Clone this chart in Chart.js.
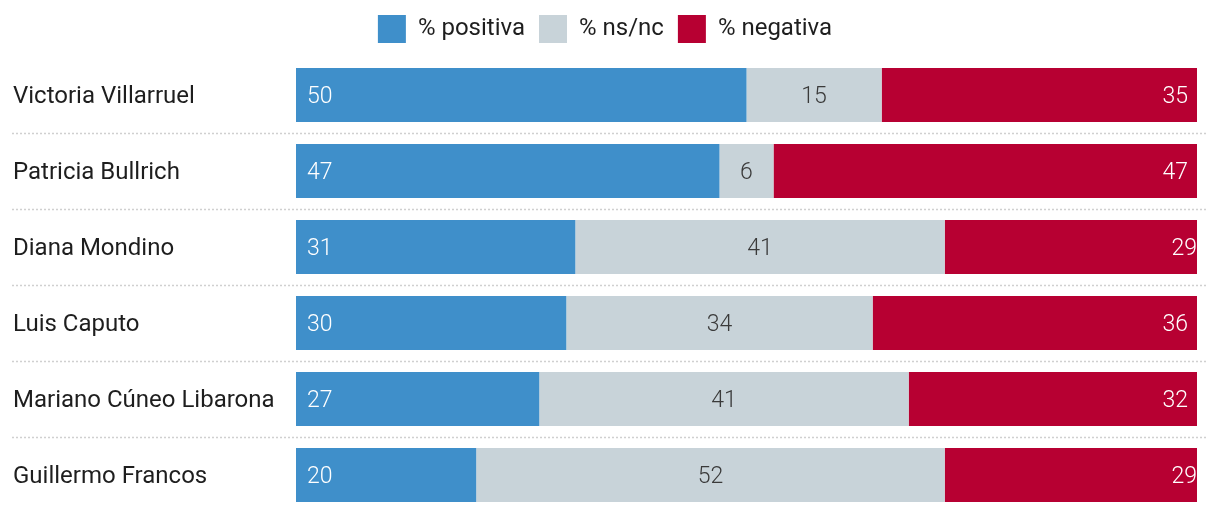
<!DOCTYPE html>
<html>
<head>
<meta charset="utf-8">
<script src="https://cdn.jsdelivr.net/npm/chart.js@4/dist/chart.umd.min.js"></script>
<style>
  body { margin: 0; background: #fff; }
  #wrap { width: 1220px; height: 514px; position: relative; }
</style>
</head>
<body>
<div id="wrap"><canvas id="chart"></canvas></div>
<script>
const categories = ['Victoria Villarruel', 'Patricia Bullrich', 'Diana Mondino', 'Luis Caputo', 'Mariano Cúneo Libarona', 'Guillermo Francos'];
const positiva = [50, 47, 31, 30, 27, 20];
const nsnc = [15, 6, 41, 34, 41, 52];
const negativa = [35, 47, 29, 36, 32, 29];
const seriesNames = ['% positiva', '% ns/nc', '% negativa'];

const FONT = 'Roboto, "Noto Sans", sans-serif';

// fixed legend height so the rows start where they should
const legendHeight = {
    id: 'legendHeight',
    afterInit(chart) {
        const lg = chart.legend;
        if (!lg) return;
        const fit = lg.fit;
        lg.fit = function () {
            fit.call(this);
            this.height = 56;
        };
    }
};

// dotted lines between the rows
const separators = {
    id: 'separators',
    beforeDatasetsDraw(chart) {
        const ctx = chart.ctx;
        const y = chart.scales.y;
        const area = chart.chartArea;
        ctx.save();
        ctx.strokeStyle = '#d0d0d0';
        ctx.lineWidth = 1.5;
        ctx.setLineDash([2, 2]);
        for (let i = 0; i < categories.length - 1; i++) {
            const py = Math.round((y.getPixelForValue(i) + y.getPixelForValue(i + 1)) / 2) + 0.5;
            ctx.beginPath();
            ctx.moveTo(12, py);
            ctx.lineTo(area.right + 11, py);
            ctx.stroke();
        }
        ctx.restore();
    }
};

// value labels inside the bars
const barLabels = {
    id: 'barLabels',
    afterDatasetsDraw(chart) {
        const ctx = chart.ctx;
        ctx.save();
        ctx.font = '300 23px ' + FONT;
        ctx.textBaseline = 'middle';
        chart.data.datasets.forEach((ds, di) => {
            const meta = chart.getDatasetMeta(di);
            meta.data.forEach((bar, i) => {
                const v = ds.data[i];
                const p = bar.getProps(['x', 'y', 'base'], true);
                const ty = p.y + 2;
                if (di === 0) {
                    ctx.fillStyle = '#fff';
                    ctx.textAlign = 'left';
                    ctx.fillText(v, p.base + 11, ty);
                } else if (di === 1) {
                    ctx.fillStyle = '#3a3a3a';
                    ctx.textAlign = 'center';
                    ctx.fillText(v, (p.base + p.x) / 2, ty);
                } else {
                    ctx.fillStyle = '#fff';
                    ctx.textAlign = 'right';
                    ctx.fillText(v, p.x - 9, ty);
                }
            });
        });
        ctx.restore();
    }
};

new Chart(document.getElementById('chart'), {
    type: 'bar',
    data: {
        labels: categories,
        datasets: [
            { label: seriesNames[0], data: positiva, backgroundColor: '#3f8fca' },
            { label: seriesNames[1], data: nsnc, backgroundColor: '#c8d3d9' },
            { label: seriesNames[2], data: negativa, backgroundColor: '#b70032' }
        ]
    },
    options: {
        indexAxis: 'y',
        responsive: true,
        maintainAspectRatio: false,
        animation: false,
        layout: { padding: { left: 13, right: 23, top: 1, bottom: 1 } },
        datasets: {
            bar: { barPercentage: 0.7105, categoryPercentage: 1, borderWidth: 0 }
        },
        scales: {
            x: {
                stacked: true,
                min: 0,
                max: 100,
                display: false
            },
            y: {
                stacked: true,
                grid: { display: false },
                border: { display: false },
                afterFit(scale) {
                    scale.width = 283;
                    scale.paddingTop = 0;
                    scale.paddingBottom = 0;
                },
                ticks: {
                    crossAlign: 'far',
                    labelOffset: 2,
                    color: '#1e1e1e',
                    font: { family: FONT, size: 24 }
                }
            }
        },
        plugins: {
            legend: {
                position: 'top',
                labels: {
                    boxWidth: 28,
                    boxHeight: 28,
                    padding: 14,
                    color: '#1e1e1e',
                    font: { family: FONT, size: 24 }
                }
            },
            tooltip: { enabled: false }
        }
    },
    plugins: [legendHeight, separators, barLabels]
});
</script>
</body>
</html>
